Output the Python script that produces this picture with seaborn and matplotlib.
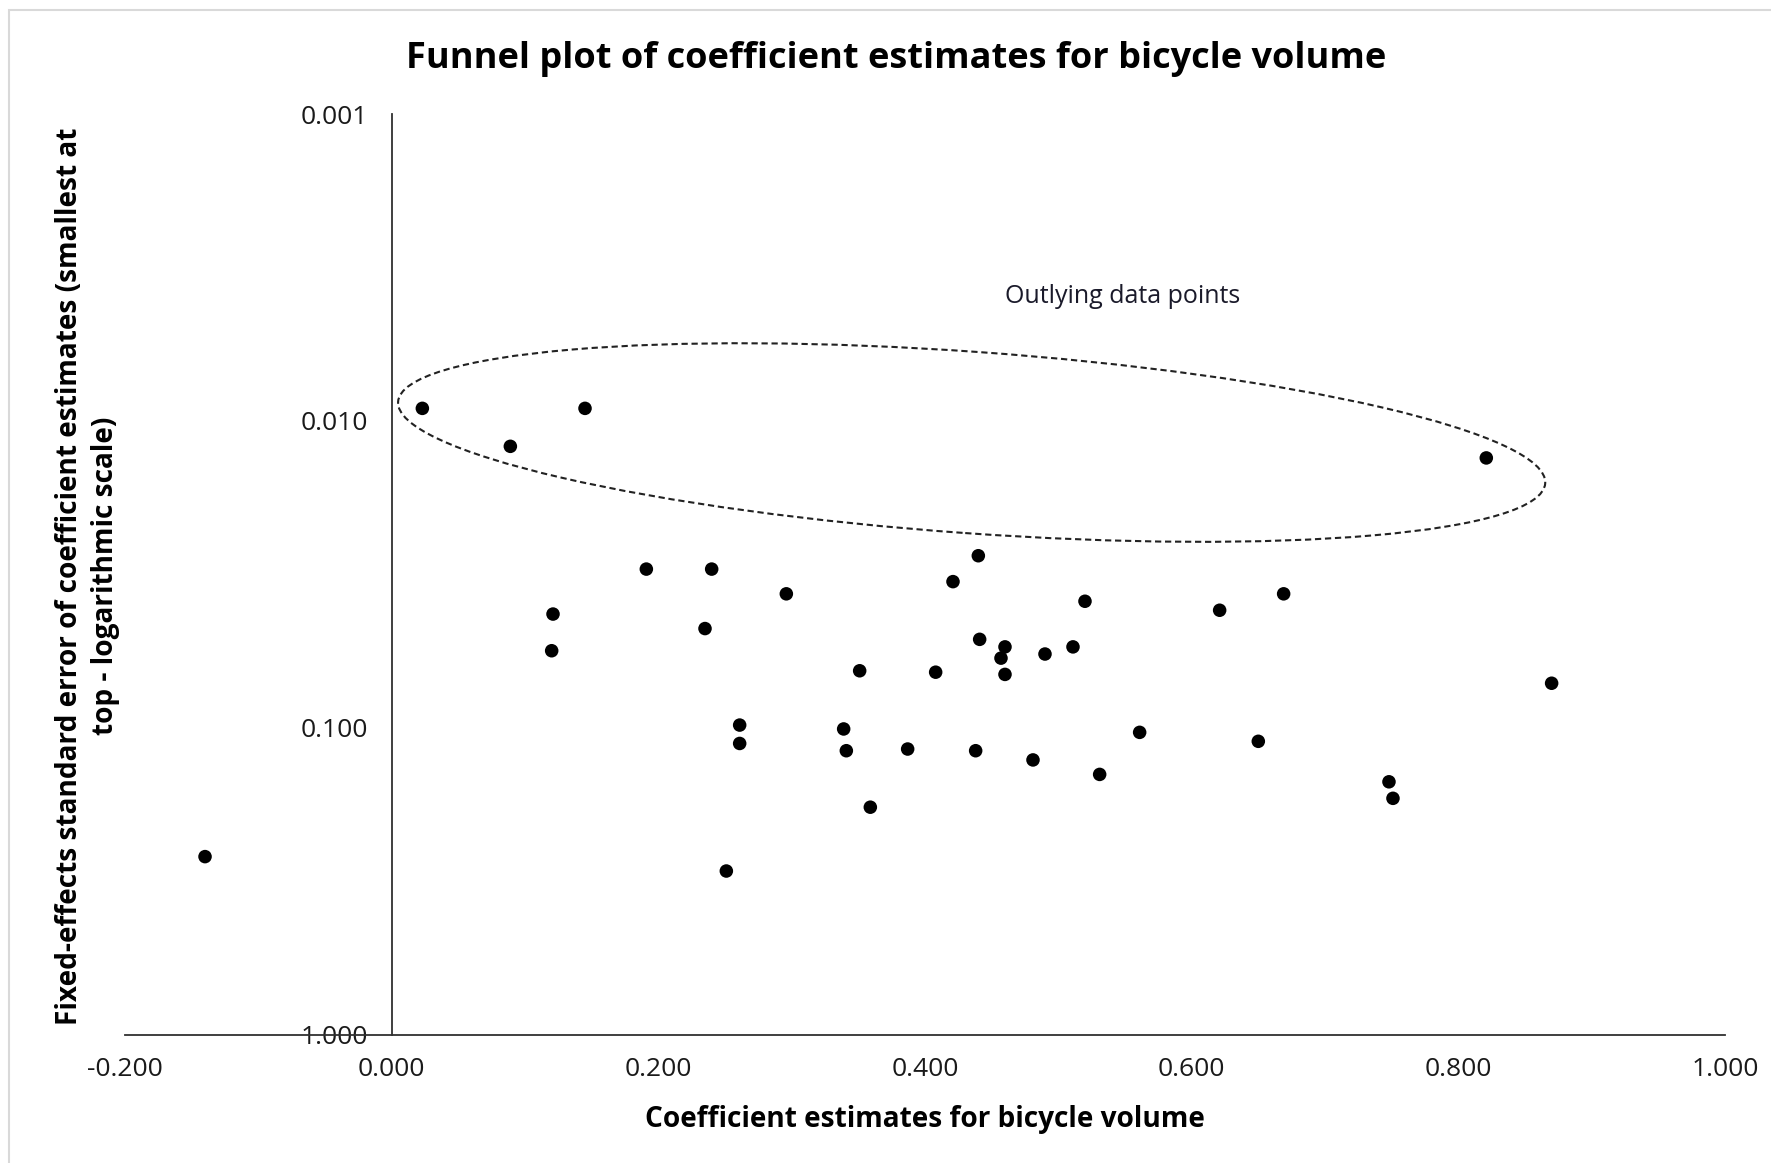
import numpy as np
import pandas as pd
import matplotlib.pyplot as plt
import seaborn as sns
from matplotlib.patches import Ellipse, Rectangle
from matplotlib.ticker import FixedLocator, FuncFormatter, NullLocator
from matplotlib.transforms import ScaledTranslation

# ==========================================
# DATA
# ==========================================
coef_estimates = [0.023, 0.145, 0.089, 0.821, 0.191, 0.240, 0.296, 0.121, 0.120,
                  0.235, 0.440, 0.421, 0.520, 0.669, 0.621, 0.441, 0.460, 0.457,
                  0.490, 0.511, 0.460, 0.351, 0.408, 0.870, 0.261, 0.261, 0.339,
                  0.341, 0.387, 0.438, 0.481, 0.531, 0.561, 0.650, 0.748, 0.751,
                  0.359, 0.251, -0.140]
std_errors = [0.0091, 0.0091, 0.0121, 0.0132, 0.0304, 0.0304, 0.0366, 0.0426, 0.0561,
              0.0475, 0.0275, 0.0334, 0.0387, 0.0366, 0.0414, 0.0515, 0.0545, 0.0593,
              0.0575, 0.0545, 0.0670, 0.0652, 0.0659, 0.0716, 0.0980, 0.1125, 0.1009,
              0.1188, 0.1173, 0.1188, 0.1273, 0.1419, 0.1035, 0.1107, 0.1500, 0.1698,
              0.1815, 0.2930, 0.2630]

x_ticks = [-0.2, 0.0, 0.2, 0.4, 0.6, 0.8, 1.0]
y_ticks = [0.001, 0.01, 0.1, 1.0]

# outlier ring: centre in data units, size in inches
ring_centre = (0.435, 0.01176)
ring_size = (11.50, 1.815)
ring_angle = -4.07
ring_label = "Outlying data points"
ring_label_pos = (0.548, 0.00392)

df = pd.DataFrame({"coef": coef_estimates, "se": std_errors})

# ==========================================
# PLOT
# ==========================================
sns.set_theme(style="white")
plt.rcParams["font.family"] = ["Open Sans", "DejaVu Sans"]

fig = plt.figure(figsize=(17.71, 11.63), dpi=100)
ax = fig.add_axes([0.0706, 0.1104, 0.9034, 0.7915])

sns.scatterplot(data=df, x="coef", y="se", color="black", s=95,
                edgecolor="none", ax=ax, zorder=3)

ax.set_yscale("log")
ax.set_xlim(-0.2, 1.0)
ax.set_ylim(1.0, 0.001)  # smallest error at the top

ax.xaxis.set_major_locator(FixedLocator(x_ticks))
ax.yaxis.set_major_locator(FixedLocator(y_ticks))
ax.yaxis.set_minor_locator(NullLocator())
ax.xaxis.set_major_formatter(FuncFormatter(lambda v, p: f"{v:.3f}"))
ax.yaxis.set_major_formatter(FuncFormatter(lambda v, p: f"{v:.3f}"))

for side in ["top", "right"]:
    ax.spines[side].set_visible(False)
ax.spines["left"].set_position(("data", 0.0))
for side in ["left", "bottom"]:
    ax.spines[side].set_color("#303030")
    ax.spines[side].set_linewidth(1.3)

ax.tick_params(axis="both", which="major", direction="out", length=7,
               width=1.3, color="#303030", labelsize=19, labelcolor="#1a1a1a")
ax.tick_params(axis="y", pad=10)
ax.tick_params(axis="x", pad=9)

ax.set_xlabel("Coefficient estimates for bicycle volume", fontsize=20.2,
              fontweight="bold", color="black")
ax.xaxis.set_label_coords(0.5, -0.0917)
ax.xaxis.label.set_va("center")

ax.set_ylabel("Fixed-effects standard error of coefficient estimates (smallest at\n"
              "top - logarithmic scale)", fontsize=20.2, fontweight="bold",
              color="black", linespacing=1.35, multialignment="center")
ax.yaxis.set_label_coords(-0.0235, 0.498)
ax.yaxis.label.set_va("center")

fig.text(0.506, 0.9415, "Funnel plot of coefficient estimates for bicycle volume",
         ha="center", va="baseline", fontsize=26, fontweight="bold", color="black")

# dashed ring round the outlying points
ring_tf = fig.dpi_scale_trans + ScaledTranslation(ring_centre[0], ring_centre[1], ax.transData)
ring = Ellipse((0, 0), ring_size[0], ring_size[1], angle=ring_angle, transform=ring_tf,
               fill=False, edgecolor="#222222", linewidth=1.5,
               linestyle=(0, (3, 1.8)), zorder=2)
ax.add_patch(ring)
ax.text(ring_label_pos[0], ring_label_pos[1], ring_label, ha="center", va="center",
        fontsize=18, color="#1a1a2a")

# light chart-area border
fig.patches.append(Rectangle((9 / 1771, -0.01), 1.0, 1 - 10 / 1163 + 0.01,
                             transform=fig.transFigure, fill=False,
                             edgecolor="#d9d9d9", linewidth=1.5))

fig.savefig("out.png", dpi=100)
plt.close(fig)
